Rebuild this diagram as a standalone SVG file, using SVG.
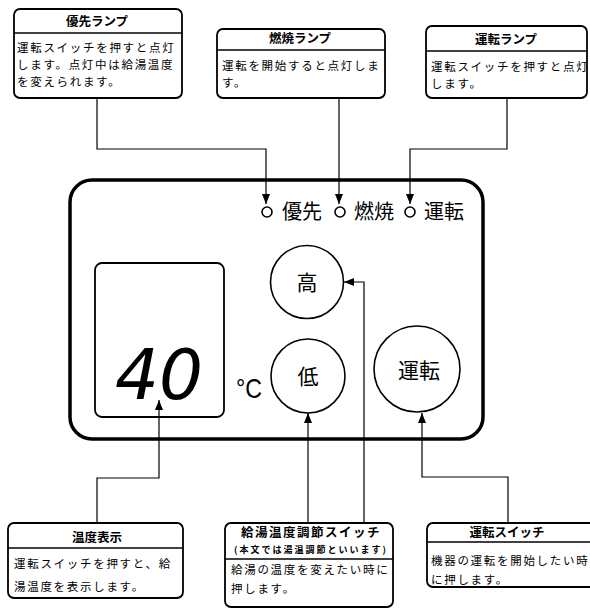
<svg xmlns="http://www.w3.org/2000/svg" width="590" height="609" viewBox="0 0 590 609">
<defs>
<marker id="arr" markerUnits="userSpaceOnUse" markerWidth="11" markerHeight="8" refX="10" refY="4" orient="auto">
<path d="M0,0 L10,4 L0,8 z" fill="#000"/>
</marker>
<style>
.box{fill:#fff;stroke:#000;stroke-width:1.8}
.sep{stroke:#000;stroke-width:1.4}
.title{font-family:"Noto Sans CJK JP","Noto Sans CJK SC",sans-serif;font-size:12.5px;font-weight:bold;text-anchor:middle;fill:#000}
.body{font-family:"Noto Sans CJK JP","Noto Sans CJK SC",sans-serif;font-size:11.5px;letter-spacing:1.7px;fill:#000}
.sub{font-family:"Noto Sans CJK JP","Noto Sans CJK SC",sans-serif;font-size:9px;font-weight:bold;fill:#000}
.lbl{font-family:"Noto Sans CJK JP","Noto Sans CJK SC",sans-serif;font-size:20px;fill:#000}
.btn{font-family:"Noto Sans CJK JP","Noto Sans CJK SC",sans-serif;font-size:21px;text-anchor:middle;fill:#000}
.conn{fill:none;stroke:#000;stroke-width:1.2}
.lamp{fill:#fff;stroke:#000;stroke-width:1.6}
.circ{fill:#fff;stroke:#000;stroke-width:1.6}
</style>
</defs>
<rect width="590" height="609" fill="#fff"/>

<g id="panel">
<rect x="70" y="180" width="413" height="259" rx="22" ry="22" fill="none" stroke="#000" stroke-width="3.5"/>
</g>

<g id="lamp-yusen">
<circle class="lamp" cx="267" cy="212" r="5"/>
<text class="lbl" x="282" y="219">優先</text>
</g>
<g id="lamp-nensho">
<circle class="lamp" cx="340" cy="212" r="5"/>
<text class="lbl" x="354" y="219">燃焼</text>
</g>
<g id="lamp-unten">
<circle class="lamp" cx="410" cy="212" r="5"/>
<text class="lbl" x="424" y="219">運転</text>
</g>

<g id="display">
<rect x="95" y="263" width="129" height="154" rx="7" ry="7" fill="#fff" stroke="#000" stroke-width="1.8"/>
<text x="115" y="399" font-family="DejaVu Sans, sans-serif" font-style="italic" font-size="70" textLength="88" lengthAdjust="spacingAndGlyphs" fill="#000">40</text>
<text x="236" y="398" font-family="Liberation Sans, Arial, sans-serif" font-size="28" textLength="26" lengthAdjust="spacingAndGlyphs" fill="#000">°C</text>
</g>

<g id="btn-high">
<circle class="circ" cx="307" cy="282" r="36.5"/>
<text class="btn" x="307" y="290">高</text>
</g>
<g id="btn-low">
<circle class="circ" cx="308" cy="376" r="37"/>
<text class="btn" x="308" y="384">低</text>
</g>
<g id="btn-run">
<circle class="circ" cx="417" cy="369" r="43"/>
<text class="btn" x="419" y="378">運転</text>
</g>

<g id="connectors">
<path class="conn" d="M97,98 V149 H266 V204" marker-end="url(#arr)"/>
<path class="conn" d="M339,98 V204" marker-end="url(#arr)"/>
<path class="conn" d="M507,98 V149 H410 V204" marker-end="url(#arr)"/>
<path class="conn" d="M97,523 V478 H159 V400" marker-end="url(#arr)"/>
<path class="conn" d="M308,523 V413" marker-end="url(#arr)"/>
<path class="conn" d="M364,523 V282 H344" marker-end="url(#arr)"/>
<path class="conn" d="M508,523 V477 H422 V413" marker-end="url(#arr)"/>
</g>

<g id="box-yusen">
<rect class="box" x="14" y="9" width="168" height="89" rx="6"/>
<line class="sep" x1="14" y1="33" x2="182" y2="33"/>
<text class="title" x="97" y="26">優先ランプ</text>
<text class="body" x="17" y="52">運転スイッチを押すと点灯</text>
<text class="body" x="17" y="69">します。点灯中は給湯温度</text>
<text class="body" x="17" y="86">を変えられます。</text>
</g>

<g id="box-nensho">
<rect class="box" x="217" y="29" width="168" height="69" rx="6"/>
<line class="sep" x1="217" y1="50" x2="385" y2="50"/>
<text class="title" x="300" y="43">燃焼ランプ</text>
<text class="body" x="222" y="70">運転を開始すると点灯しま</text>
<text class="body" x="222" y="87">す。</text>
</g>

<g id="box-unten-lamp">
<rect class="box" x="426" y="26" width="161" height="72" rx="6"/>
<line class="sep" x1="426" y1="51" x2="587" y2="51"/>
<text class="title" x="506" y="44">運転ランプ</text>
<text class="body" x="431" y="71">運転スイッチを押すと点灯</text>
<text class="body" x="431" y="88">します。</text>
</g>

<g id="box-ondo">
<rect class="box" x="8" y="523" width="175" height="75" rx="6"/>
<line class="sep" x1="8" y1="548" x2="183" y2="548"/>
<text class="title" x="97" y="542">温度表示</text>
<text class="body" x="14" y="568">運転スイッチを押すと、給</text>
<text class="body" x="14" y="591">湯温度を表示します。</text>
</g>

<g id="box-kyuto">
<rect class="box" x="225" y="523" width="168" height="84" rx="6"/>
<line class="sep" x1="225" y1="559" x2="393" y2="559"/>
<text class="title" x="311" y="537" letter-spacing="1.5">給湯温度調節スイッチ</text>
<text class="sub" x="234" y="553" textLength="152">(本文では湯温調節といいます)</text>
<text class="body" x="231" y="574">給湯の温度を変えたい時に</text>
<text class="body" x="231" y="593">押します。</text>
</g>

<g id="box-unten-sw">
<rect class="box" x="427" y="523" width="170" height="64" rx="6"/>
<line class="sep" x1="427" y1="542" x2="597" y2="542"/>
<text class="title" x="507" y="537">運転スイッチ</text>
<text class="body" x="431" y="565">機器の運転を開始したい時</text>
<text class="body" x="431" y="584">に押します。</text>
</g>
</svg>
